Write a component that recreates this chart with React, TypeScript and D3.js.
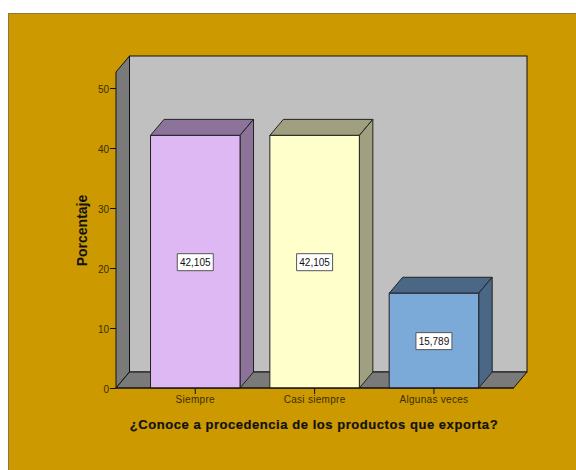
import React, { useEffect, useRef } from 'react';
import * as d3 from 'd3';

const categories = ['Siempre', 'Casi siempre', 'Algunas veces'];
const percentages = [42.105, 42.105, 15.789];
const valueLabels = ['42,105', '42,105', '15,789'];
const yTicks = [0, 10, 20, 30, 40, 50];
const barFronts = ['#DEB8F2', '#FFFFCC', '#7BAAD9'];
const barShades = ['#8B7399', '#A0A080', '#4A6885'];

const xTitle = '¿Conoce a procedencia de los productos que exporta?';
const yTitle = 'Porcentaje';

const width = 576;
const height = 470;
const font = '"Liberation Sans", Arial, sans-serif';

// 3D offset of the back wall
const depthX = 13.5;
const depthY = 16;

const floorY = 388;
const axisLeft = 116;
const axisRight = 514;

export default function App(): JSX.Element {
  const axisLeftRef = useRef<SVGGElement>(null);
  const axisBottomRef = useRef<SVGGElement>(null);

  const yScale = d3.scaleLinear().domain([0, 52.67]).range([floorY, 72]);
  const xScale = d3
    .scaleBand<string>()
    .domain(categories)
    .range([135.6, 493.6])
    .paddingInner(0.25)
    .paddingOuter(0.125);

  useEffect(() => {
    const axisLeftEl = d3.select(axisLeftRef.current);
    const axisBottomEl = d3.select(axisBottomRef.current);
    axisLeftEl.selectAll('*').remove();
    axisBottomEl.selectAll('*').remove();

    axisLeftEl.call(d3.axisLeft(yScale).tickValues(yTicks).tickSize(6).tickPadding(1).tickSizeOuter(0));
    axisBottomEl.call(d3.axisBottom(xScale).tickSize(6).tickPadding(2).tickSizeOuter(0));

    // the baseline and left edge are drawn with the walls
    axisLeftEl.select('.domain').remove();
    axisBottomEl.select('.domain').remove();
    [axisLeftEl, axisBottomEl].forEach((el) => {
      el.attr('font-family', font).attr('font-size', 10);
      el.selectAll('text').attr('fill', '#3a2e00');
      el.selectAll('line').attr('stroke', '#111');
    });
    axisLeftEl.selectAll('text').attr('dy', '0.45em');
    axisBottomEl.selectAll('text').attr('letter-spacing', 0.3);
  }, []);

  const top = yScale.range()[1];
  const wallPath = (pts: number[][]) => `M${pts.map((p) => p.join(',')).join('L')}Z`;

  return (
    <svg
      width={width}
      height={height}
      style={{ position: 'absolute', left: 0, top: 0, display: 'block' }}
    >
      <rect x={0} y={0} width={width} height={height} fill="#fff" />
      <rect x={8.5} y={13.5} width={width + 20} height={height + 20} fill="#CC9900" stroke="#8c7a3a" />

      {/* back wall */}
      <rect
        x={axisLeft + depthX}
        y={top - depthY}
        width={axisRight - axisLeft - 0.5}
        height={floorY - top}
        fill="#C0C0C0"
        stroke="#111"
      />
      {/* left wall */}
      <path
        d={wallPath([
          [axisLeft, top],
          [axisLeft + depthX, top - depthY],
          [axisLeft + depthX, floorY - depthY],
          [axisLeft, floorY]
        ])}
        fill="#7A7A7A"
        stroke="#111"
      />
      {/* floor */}
      <path
        d={wallPath([
          [axisLeft, floorY],
          [axisLeft + depthX, floorY - depthY],
          [axisRight + depthX - 0.5, floorY - depthY],
          [axisRight - 0.5, floorY]
        ])}
        fill="#7A7A7A"
        stroke="#111"
      />

      <g ref={axisLeftRef} transform={`translate(${axisLeft},0)`} />
      <g ref={axisBottomRef} transform={`translate(0,${floorY})`} />

      {categories.map((c, i) => {
        const x0 = xScale(c) as number;
        const x1 = x0 + xScale.bandwidth();
        const y1 = yScale(percentages[i]);
        const midX = (x0 + x1) / 2;
        const midY = (y1 + floorY) / 2;
        return (
          <g key={c} stroke="#222" strokeLinejoin="round">
            <path
              d={wallPath([
                [x0, y1],
                [x0 + depthX, y1 - depthY],
                [x1 + depthX, y1 - depthY],
                [x1, y1]
              ])}
              fill={barShades[i]}
            />
            <path
              d={wallPath([
                [x1, y1],
                [x1 + depthX, y1 - depthY],
                [x1 + depthX, floorY - depthY],
                [x1, floorY]
              ])}
              fill={barShades[i]}
            />
            <rect x={x0} y={y1} width={x1 - x0} height={floorY - y1} fill={barFronts[i]} />
            <rect x={midX - 18} y={midY - 8} width={36} height={17} fill="#fff" stroke="#555" />
            <text
              x={midX}
              y={midY + 4}
              textAnchor="middle"
              fontFamily={font}
              fontSize={10}
              stroke="none"
              fill="#111"
            >
              {valueLabels[i]}
            </text>
          </g>
        );
      })}

      <line x1={axisLeft} x2={axisRight} y1={floorY} y2={floorY} stroke="#111" />

      <text
        x={314}
        y={429}
        textAnchor="middle"
        fontFamily={font}
        fontSize={13}
        fontWeight="bold"
        letterSpacing={0.55}
        stroke="#111"
        strokeWidth={0.2}
        fill="#111"
      >
        {xTitle}
      </text>
      <text
        transform="translate(87,230.5) rotate(-90)"
        textAnchor="middle"
        fontFamily={font}
        fontSize={14}
        fontWeight="bold"
        fill="#111"
      >
        {yTitle}
      </text>
    </svg>
  );
}
